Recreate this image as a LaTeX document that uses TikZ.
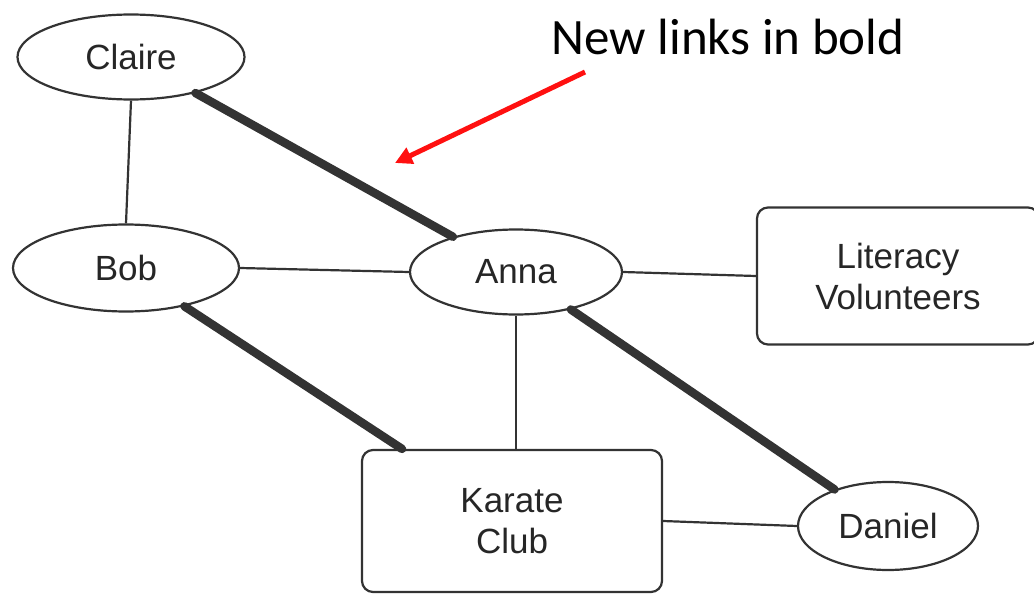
\documentclass[tikz,border=0pt]{standalone}
\usepackage{fontspec}
\setmainfont{Liberation Sans}
\newfontfamily\titlefont{Carlito}
\usetikzlibrary{shapes.geometric,arrows.meta}
\definecolor{ink}{HTML}{333333}
\definecolor{labelink}{HTML}{262626}
\definecolor{arrowred}{HTML}{FF1010}
\begin{document}
\begin{tikzpicture}[x=1pt,y=-1pt,
  label/.style={font=\fontsize{35}{41}\selectfont, text=labelink, align=center},
  person/.style={label, ellipse, draw=ink, line width=2.2pt, inner sep=0pt},
  group/.style={label, rectangle, rounded corners=11pt, draw=ink, line width=2.2pt, inner sep=0pt},
  tie/.style={draw=ink, line width=2.2pt},
  newtie/.style={draw=ink, line width=8.5pt, line cap=round}]
  \useasboundingbox (0,0) rectangle (1034,594);

  % people and organisations
  \node[person, minimum width=227pt, minimum height=85pt] (claire) at (131,57) {Claire};
  \node[person, minimum width=226pt, minimum height=87pt] (bob) at (126,268) {Bob};
  \node[person, minimum width=212pt, minimum height=85pt] (anna) at (516,272) {Anna};
  \node[person, minimum width=180pt, minimum height=88pt] (daniel) at (888,526) {Daniel};
  \node[group, minimum width=282pt, minimum height=137pt] (literacy) at (898,276) {Literacy\\Volunteers};
  \node[group, minimum width=300pt, minimum height=142pt] (karate) at (512,521) {Karate\\Club};

  % existing links
  \path[tie] (claire.south) -- (bob.north);
  \path[tie] (bob.east) -- (anna.west);
  \path[tie] (anna.east) -- (literacy.west);
  \path[tie] (anna.south) -- (anna.south |- karate.north);
  \path[tie] (karate.east) -- (daniel.west);

  % new links
  \path[newtie] (claire) -- (anna);
  \path[newtie] (bob) -- (karate);
  \path[newtie] (anna) -- (daniel);

  % annotation
  \node[anchor=base, font=\titlefont\fontsize{51}{60}\selectfont] (title) at (728,55) {New links in bold};
  \coordinate (arrowstart) at (585,72);
  \coordinate (arrowtip) at (395,163);
  \draw[arrowred, line width=5pt, -{Triangle[length=17pt,width=17pt]}] (arrowstart) -- (arrowtip);
\end{tikzpicture}
\end{document}
